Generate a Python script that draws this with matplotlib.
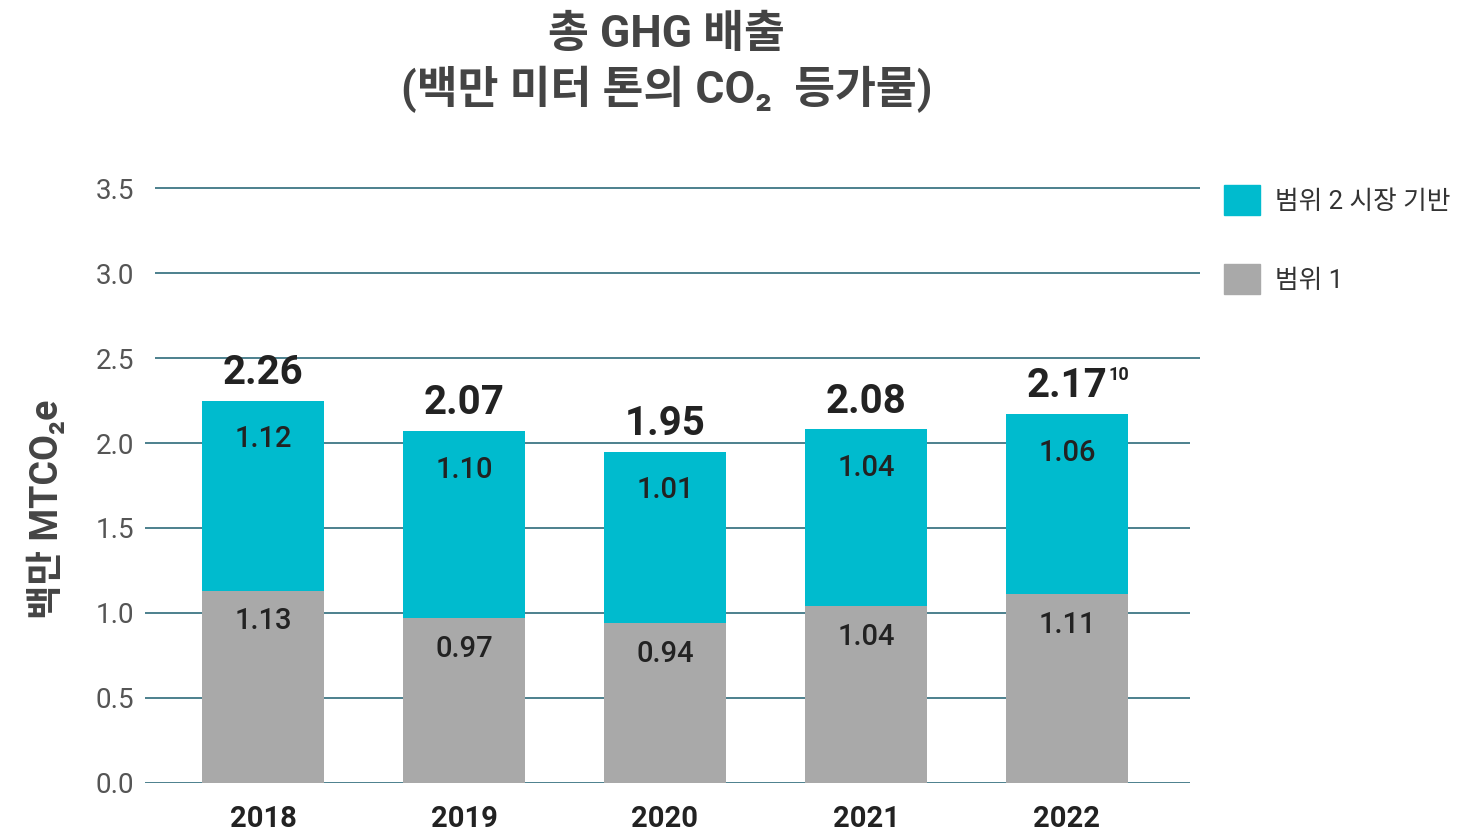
import matplotlib.pyplot as plt
import numpy as np
from matplotlib.patches import Patch

plt.rcParams["font.family"] = ["Roboto", "Noto Sans CJK KR", "DejaVu Sans"]

years = ["2018", "2019", "2020", "2021", "2022"]
scope1 = [1.13, 0.97, 0.94, 1.04, 1.11]
scope2 = [1.12, 1.10, 1.01, 1.04, 1.06]
totals = ["2.26", "2.07", "1.95", "2.08", "2.17"]
total_notes = ["", "", "", "", "10"]
yticks = [0.0, 0.5, 1.0, 1.5, 2.0, 2.5, 3.0, 3.5]

cyan = "#00BBCE"
gray = "#A9A9A9"
grid_color = "#2E6B7A"

fig = plt.figure(figsize=(14.65, 8.4), dpi=100)
ax = fig.add_axes([0.099, 0.068, 0.713, 0.708])

x = np.arange(len(years))
s1 = np.array(scope1)
s2 = np.array(scope2)
ax.bar(x, s1, width=0.607, color=gray, zorder=2)
ax.bar(x, s2, width=0.607, bottom=s1, color=cyan, zorder=2)

for i in range(len(years)):
    ax.annotate(f"{scope1[i]:.2f}", (x[i], s1[i]), xytext=(0, -22),
                textcoords="offset points", ha="center", va="center",
                fontsize=21, fontweight="medium", color="#222222")
    ax.annotate(f"{scope2[i]:.2f}", (x[i], s1[i] + s2[i]), xytext=(0, -28),
                textcoords="offset points", ha="center", va="center",
                fontsize=21, fontweight="medium", color="#222222")
    ax.annotate(totals[i], (x[i], s1[i] + s2[i]), xytext=(0, 20),
                textcoords="offset points", ha="center", va="center",
                fontsize=29, fontweight="bold", color="#222222")
    if total_notes[i]:
        ax.annotate(total_notes[i], (x[i], s1[i] + s2[i]), xytext=(30, 28),
                    textcoords="offset points", ha="left", va="center",
                    fontsize=13, fontweight="bold", color="#222222")

ax.set_xlim(-0.587, 4.61)
ax.set_ylim(0, 3.5)
# the upper gridlines sit a little further right than the lower ones
for t in yticks:
    if t >= 2.5:
        ax.hlines(t, -0.537, 4.66, color=grid_color, linewidth=1.2, zorder=1,
                  clip_on=False)
    else:
        ax.hlines(t, -0.587, 4.61, color=grid_color, linewidth=1.2, zorder=1)
ax.set_yticks(yticks)
ax.set_yticklabels([f"{t:.1f}" for t in yticks], fontsize=20, color="#555555")
ax.set_xticks(x)
ax.set_xticklabels(years, fontsize=21, fontweight="bold", color="#222222")
ax.tick_params(axis="both", length=0)
ax.tick_params(axis="x", pad=16)
ax.tick_params(axis="y", pad=8)
for sp in ax.spines.values():
    sp.set_visible(False)

ax.set_ylabel("백만 MTCO₂e", fontsize=27, fontweight="bold", color="#444444")
ax.yaxis.set_label_coords(-0.076, 0.46)

fig.text(0.455, 0.958, "총 GHG 배출", ha="center", va="center",
         fontsize=32, fontweight="bold", color="#444444")
fig.text(0.455, 0.893, "(백만 미터 톤의 CO₂  등가물)", ha="center", va="center",
         fontsize=32, fontweight="bold", color="#444444")

handles = [Patch(color=cyan), Patch(color=gray)]
ax.legend(handles, ["범위 2 시장 기반", "범위 1"], loc="upper left",
          bbox_to_anchor=(1.023, 1.022), frameon=False, fontsize=18.5,
          labelcolor="#333333", handlelength=1.42, handleheight=1.42,
          labelspacing=1.9, handletextpad=0.55, borderaxespad=0)

fig.savefig("out.png", dpi=100)
